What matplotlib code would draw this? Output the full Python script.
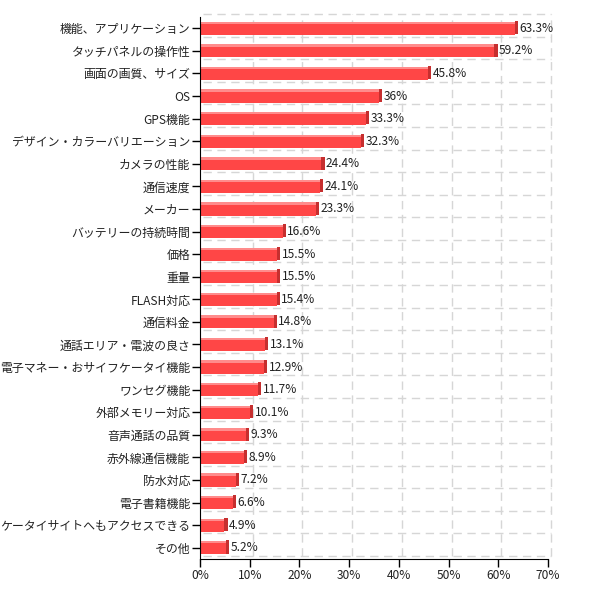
import matplotlib.pyplot as plt
import matplotlib.transforms as mtransforms
import numpy as np

plt.rcParams['font.family'] = ['Noto Sans CJK JP', 'DejaVu Sans']

# 項目と割合(%)
items = [
    "機能、アプリケーション", "タッチパネルの操作性", "画面の画質、サイズ", "OS",
    "GPS機能", "デザイン・カラーバリエーション", "カメラの性能", "通信速度",
    "メーカー", "バッテリーの持続時間", "価格", "重量", "FLASH対応", "通信料金",
    "通話エリア・電波の良さ", "電子マネー・おサイフケータイ機能", "ワンセグ機能",
    "外部メモリー対応", "音声通話の品質", "赤外線通信機能", "防水対応",
    "電子書籍機能", "ケータイサイトへもアクセスできる", "その他",
]
values = [63.3, 59.2, 45.8, 36, 33.3, 32.3, 24.4, 24.1, 23.3, 16.6, 15.5, 15.5,
          15.4, 14.8, 13.1, 12.9, 11.7, 10.1, 9.3, 8.9, 7.2, 6.6, 4.9, 5.2]
xticks = [0, 10, 20, 30, 40, 50, 60, 70]

fig = plt.figure(figsize=(5.98, 5.98), dpi=100)
ax = fig.add_axes([200 / 598, 1 - 559 / 598, 348 / 598, 542 / 598])

y = np.arange(len(items))
vals = np.array(values)
h = 0.58
side = 0.65

# 3D風の棒: 本体、上面ハイライト、右端の影
ax.barh(y, vals, height=h, color='#ff4646', zorder=3)
ax.barh(y - h / 2 + 0.05, vals, height=0.1, color='#ff8c8c', zorder=4)
ax.barh(y - 0.03, np.full(len(vals), side), left=vals, height=h, color='#c62f2f', zorder=4)

for yi, v in zip(y, values):
    ax.text(v + side + 0.3, yi, f"{v:g}%", va='center', ha='left', fontsize=8.6, color='#222222')

ax.set_xlim(0, 70)
ax.set_ylim(len(items) - 0.5, -0.5)
ax.set_xticks(xticks)
ax.set_xticklabels([f"{t}%" for t in xticks], fontsize=8.6, color='#222222')
ax.set_yticks(y)
ax.set_yticklabels(items, fontsize=8.6, color='#222222')
ax.tick_params(axis='both', length=6, width=1, color='black', pad=1)

# 奥にずらした破線グリッド
off = mtransforms.ScaledTranslation(3 / 100, 3 / 100, fig.dpi_scale_trans)
for t in xticks[1:]:
    ax.plot([t, t], [0, 1], color='#d6d6d6', lw=1, ls=(0, (6, 4)), zorder=1,
            transform=ax.get_xaxis_transform() + off, clip_on=False)
for b in np.arange(-0.5, len(items), 1.0):
    ax.plot([0, 1], [b, b], color='#d6d6d6', lw=1, ls=(0, (6, 4)), zorder=1,
            transform=ax.get_yaxis_transform() + off, clip_on=False)

for s in ['top', 'right']:
    ax.spines[s].set_visible(False)
ax.spines['left'].set_color('black')
ax.spines['bottom'].set_color('black')
ax.spines['left'].set_zorder(5)

fig.savefig("out.png", dpi=100)
